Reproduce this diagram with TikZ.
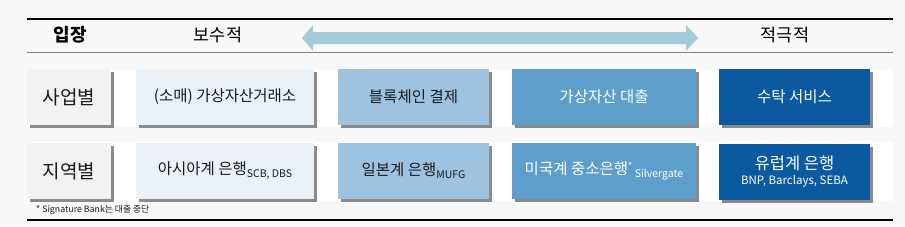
\documentclass[tikz,border=0pt]{standalone}
\usepackage{fontspec}
\setmainfont{Noto Sans CJK KR}
\usetikzlibrary{shadows}
\definecolor{bgc}{HTML}{F8F8F8}
\definecolor{labfill}{HTML}{F2F2F2}
\definecolor{cA}{HTML}{EAF2F8}
\definecolor{cB}{HTML}{9DC3E0}
\definecolor{cC}{HTML}{5E9ECB}
\definecolor{cD}{HTML}{0B5AA0}
\definecolor{shd}{HTML}{8A8A8A}
\definecolor{arrc}{HTML}{A5CAD9}
\definecolor{rulegrey}{HTML}{808080}
\definecolor{txt}{HTML}{1A1A1A}
\newcommand{\boxfont}{\fontsize{15.5}{18}\selectfont}
\newcommand{\subfont}{\fontsize{10.5}{12}\selectfont}
\begin{document}
\begin{tikzpicture}[x=1pt,y=-1pt,
  cell/.style={inner sep=0pt, outer sep=0pt, minimum height=56pt, align=center, text=txt,
    general shadow={fill=shd, shadow xshift=3pt, shadow yshift=-3pt}},
  labcell/.style={cell, fill=labfill, minimum width=84pt, font=\fontsize{19}{22}\selectfont},
  headtxt/.style={inner sep=0pt, font=\fontsize{17.5}{20}\selectfont, text=black},
  band/.style={fill=white, draw=none}]
\useasboundingbox (0,0) rectangle (905,226);
\fill[bgc] (0,0) rectangle (905,226);
% rules
\coordinate (tl) at (27,19); \coordinate (tr) at (893,19);
\coordinate (ml) at (27,52); \coordinate (mr) at (893,52);
\coordinate (bl) at (27,220); \coordinate (br) at (893,220);
\draw[line width=2pt] (tl) -- (tr);
\draw[line width=1pt, rulegrey] (ml) -- (mr);
\draw[line width=2pt] (bl) -- (br);
% header
\node[headtxt, font=\fontsize{18}{20}\selectfont\bfseries] (h1) at (70,35) {입장};
\node[headtxt] (h2) at (218,35) {보수적};
\node[headtxt] (h3) at (785,35) {적극적};
\fill[arrc] (302,38) -- (313,25) -- (313,32) -- (686,32) -- (686,25) -- (698,38)
  -- (686,51) -- (686,44) -- (313,44) -- (313,51) -- cycle;
% row bands
\fill[band] (27,69) rectangle (893,127);
\fill[band] (27,142) rectangle (893,201);
% row 1
\node[labcell] (r1) at (69,97) {사업별};
\node[cell, fill=cA, minimum width=178pt, font=\boxfont] (r1a) at (225,97) {(소매) 가상자산거래소};
\node[cell, fill=cB, minimum width=151pt, font=\boxfont] (r1b) at (413.5,97) {블록체인 결제};
\node[cell, fill=cC, minimum width=184pt, font=\boxfont, text=white] (r1c) at (604,97) {가상자산 대출};
\node[cell, fill=cD, minimum width=151pt, font=\boxfont, text=white] (r1d) at (794.5,97) {수탁 서비스};
% row 2
\node[labcell] (r2) at (69,171) {지역별};
\node[cell, fill=cA, minimum width=178pt, font=\boxfont] (r2a) at (225,171) {아시아계 은행\raisebox{-3pt}{\subfont SCB, DBS}};
\node[cell, fill=cB, minimum width=151pt, font=\boxfont] (r2b) at (413.5,171) {일본계 은행\raisebox{-3pt}{\subfont MUFG}};
\node[cell, fill=cC, minimum width=184pt, font=\boxfont, text=white] (r2c) at (604,171) {미국계 중소은행\raisebox{5pt}{\fontsize{9}{10}\selectfont *}\,\raisebox{-3pt}{\subfont Silvergate}};
\node[cell, fill=cD, minimum width=151pt, text=white] (r2d) at (794.5,172) {{\fontsize{16.5}{19}\selectfont 유럽계 은행}\\[3pt]{\fontsize{11.5}{13}\selectfont BNP, Barclays, SEBA}};
% footnote
\node[anchor=west, inner sep=0pt, font=\fontsize{8.8}{10}\selectfont, text=txt] (fn) at (36,210) {* Signature Bank는 대출 중단};
\end{tikzpicture}
\end{document}
